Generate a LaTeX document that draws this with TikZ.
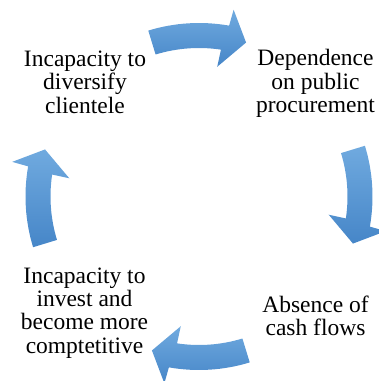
\documentclass[tikz,border=0pt]{standalone}
\usepackage{fontspec}
\setmainfont{Liberation Serif}
\usepackage{xcolor}
\definecolor{arrowtop}{RGB}{112,170,223}
\definecolor{arrowbot}{RGB}{70,134,200}

\begin{document}
\begin{tikzpicture}[x=1pt, y=1pt,
    label/.style={align=center, inner sep=0pt, font=\fontsize{23.5}{23.3}\selectfont},
    cyclearrow/.style={top color=arrowtop, bottom color=arrowbot, draw=none}]
\useasboundingbox (0,0) rectangle (379,381);
%\draw[thin,color=gray!50] (0,0) grid (379,381);
\begin{scope}[shift={(199,184.5)}]
\foreach \a in {0,-90,-180,-270}{
    \shade[cyclearrow] (\a+107:173.5) arc[start angle=\a+107, end angle=\a+80, radius=173.5]
        -- (\a+79.5:190) -- (\a+73:161) -- (\a+82:131) -- (\a+81.5:148.5)
        arc[start angle=\a+81.5, end angle=\a+107, radius=148.5] -- cycle;
}
\end{scope}
\node[label] (diversify) at (85,298.8) {Incapacity to\\diversify\\clientele};
\node[label] (procure) at (315.5,297.5) {Dependence\\on public\\procurement};
\node[label] (cashflow) at (315.5,65) {Absence of\\cash flows};
\node[label] (invest) at (84.5,68) {Incapacity to\\invest and\\become more\\comptetitive};
\end{tikzpicture}
\end{document}
